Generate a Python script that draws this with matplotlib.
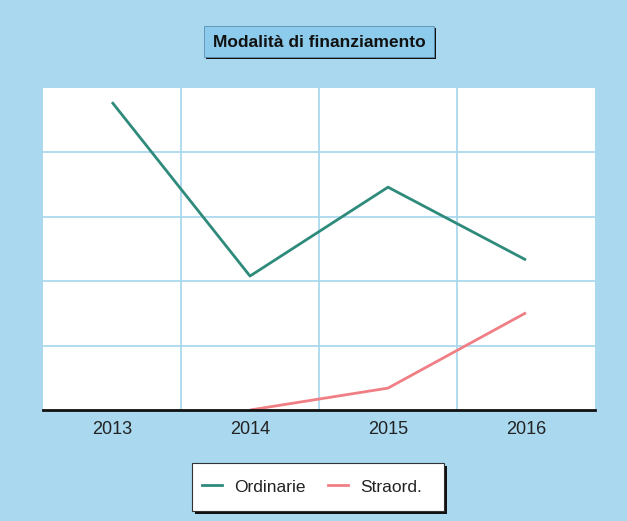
import matplotlib
matplotlib.use("Agg")
import matplotlib.pyplot as plt
from matplotlib.patches import Rectangle
from matplotlib.lines import Line2D

years = ["2013", "2014", "2015", "2016"]
ordinarie = [4.78, 2.08, 3.46, 2.33]
straord_years = ["2014", "2015", "2016"]
straord = [0.0, 0.34, 1.51]
title = "Modalità di finanziamento"
series_names = ["Ordinarie", "Straord."]

BG = "#a9d8ef"
GRID = "#a6d6ec"
TEAL = "#2e8b7c"
PINK = "#ef7f85"

W, H = 627, 521
fig = plt.figure(figsize=(W / 100, H / 100), dpi=100)
fig.patch.set_facecolor(BG)
plt.rcParams['font.family'] = ['Liberation Sans', 'DejaVu Sans']

def fx(px):
    return px / W
def fy(py):
    return 1 - py / H

ax = fig.add_axes([fx(43), fy(410), fx(595) - fx(43), fy(88) - fy(410)])
ax.set_facecolor("white")
xs = list(range(len(years)))
ax.plot(xs, ordinarie, color=TEAL, lw=2, solid_capstyle="butt")
sx = [years.index(y) for y in straord_years]
ax.plot(sx, straord, color=PINK, lw=2, solid_capstyle="butt")
ax.set_xlim(-0.5, len(years) - 0.5)
ax.set_ylim(0, 5)
ax.set_xticks(xs)
ax.set_xticklabels(years, fontsize=13, color="#222222")
ax.set_xticks([i + 0.5 for i in xs[:-1]], minor=True)
ax.set_yticks([1, 2, 3, 4])
ax.tick_params(axis="y", length=0, labelleft=False)
ax.tick_params(axis="x", which="both", length=0, pad=8)
ax.grid(True, which="minor", axis="x", color=GRID, lw=1.2)
ax.grid(True, which="major", axis="y", color=GRID, lw=1.2)
for s in ["top", "right", "left"]:
    ax.spines[s].set_visible(False)
ax.spines["bottom"].set_color("#111111")
ax.spines["bottom"].set_linewidth(2)
ax.set_axisbelow(True)

# Title box with shadow
tx0, tx1, ty0, ty1 = 204, 434, 26, 57
fig.patches.append(Rectangle((fx(tx0 + 2), fy(ty1 + 2)), fx(tx1 - tx0), fy(ty0) - fy(ty1),
                             transform=fig.transFigure, facecolor="#111111", edgecolor="none", zorder=1))
fig.patches.append(Rectangle((fx(tx0), fy(ty1)), fx(tx1 - tx0), fy(ty0) - fy(ty1),
                             transform=fig.transFigure, facecolor="#8ccbec", edgecolor="#5a8fb0", lw=0.6, zorder=2))
fig.text(fx((tx0 + tx1) / 2), fy((ty0 + ty1) / 2 + 1), title, ha="center", va="center",
         fontsize=12.5, fontweight="bold", color="#111111", zorder=3)

# Legend box with shadow
lx0, lx1, ly0, ly1 = 192, 444, 463, 511
fig.patches.append(Rectangle((fx(lx0 + 3), fy(ly1 + 3)), fx(lx1 - lx0), fy(ly0) - fy(ly1),
                             transform=fig.transFigure, facecolor="#111111", edgecolor="none", zorder=1))
fig.patches.append(Rectangle((fx(lx0), fy(ly1)), fx(lx1 - lx0), fy(ly0) - fy(ly1),
                             transform=fig.transFigure, facecolor="white", edgecolor="#333333", lw=0.8, zorder=2))
handles = [Line2D([], [], color=TEAL, lw=2), Line2D([], [], color=PINK, lw=2)]
leg = fig.legend(handles, series_names, loc="center", bbox_to_anchor=(fx(312), fy(487)),
                 ncol=2, frameon=False, fontsize=12.5, handlelength=1.15, handletextpad=0.7,
                 columnspacing=1.3, labelcolor="#222222")
leg.set_zorder(5)

fig.savefig("out.png", dpi=100, facecolor=BG)
